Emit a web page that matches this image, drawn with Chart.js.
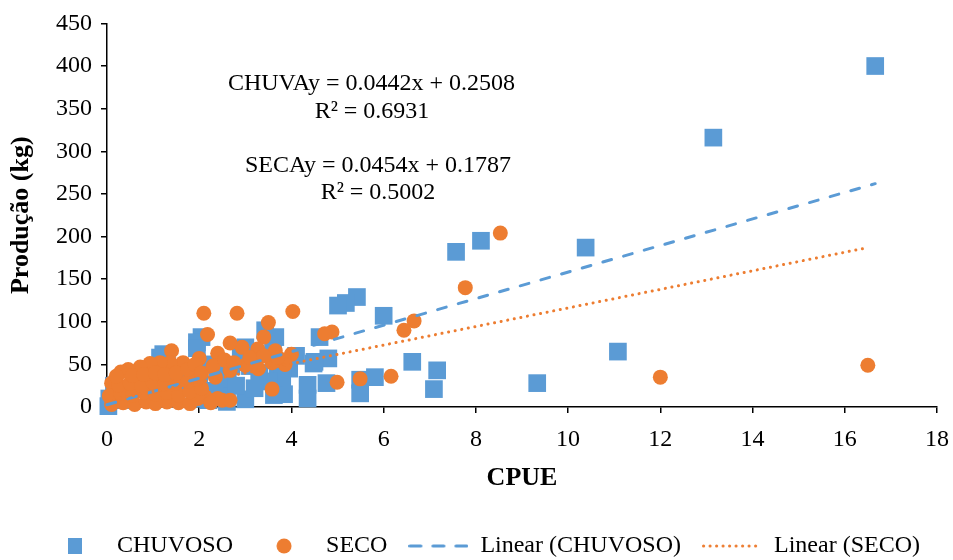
<!DOCTYPE html>
<html>
<head>
<meta charset="utf-8">
<script src="https://cdn.jsdelivr.net/npm/chart.js@4.4.0/dist/chart.umd.min.js"></script>
<style>
html,body{margin:0;padding:0;background:#fff;}
#c{display:block;}
</style>
</head>
<body>
<canvas id="c" width="953" height="560"></canvas>
<script>
// ---- data ----
const chuvosoX = [16.66,13.15,10.38,8.11,7.57,11.08,9.33,7.16,7.09,6.62,6.0,5.42,5.18,5.01,5.81,5.49,5.49,4.8,4.5,4.61,4.76,4.35,4.35,3.84,3.62,3.0,3.0,3.43,3.65,2.05,1.95,1.95,1.22,1.3,2.95,4.48,2.62,3.07,3.7,3.95,3.8,2.3,2.5,3.1,3.3,2.9,2.0,2.0,2.0,2.2,2.5,2.34,0.03,0.05,2.6,1.0,1.1,1.15,0.3,0.5,0.8,1.2,1.5,1.7,0.4,0.9,1.3,1.6,1.9,0.15,3.5,3.2,2.8,2.7,4.1,3.6];
const chuvosoY = [400,316,187,195,182,65,28,43,21,53,107,129,122,119,35,32,16,57,53,82,28,26,10,15,14,9,70,90,82,82,76,69,62,58,62,51,31,56,50,45,35,50,40,48,40,58,45,30,15,8,12,19,1,10,6,45,40,58,15,20,25,30,35,40,8,12,18,22,10,25,30,22,25,48,60,65];

const secoX = [16.5,12.0,8.53,7.77,6.66,6.44,6.16,5.49,4.99,4.88,4.72,4.03,3.5,2.82,2.1,2.18,3.58,4.0,3.84,3.86,3.65,3.4,3.27,3.58,3.28,3.0,2.93,2.67,2.67,2.4,2.35,2.0,1.65,1.4,1.37,1.15,0.93,0.72,0.46,0.3,0.1,2.5,2.67,2.4,2.13,1.97,1.3,
  0.1,0.35,0.6,0.85,1.05,1.55,1.8,2.25,
  0.05,0.3,0.55,0.8,1.05,1.3,1.55,1.8,2.05,
  0.25,0.5,0.75,1.0,1.25,1.5,1.75,1.95,
  0.2,0.55,0.8,1.05,1.25,1.5,1.75,1.91,2.05,2.3,2.55,2.75,3.1,3.4,3.7];
const secoY = [49,35,204,140,101,90,36,33,29,88,86,112,99,110,110,85,21,62,55,50,66,82,68,52,45,49,70,75,43,63,35,57,52,66,52,52,51,47,44,41,28,8,8,10,12,10,6,
  3,5,3,6,4,5,4,5,
  13,16,14,17,15,17,14,18,22,
  26,28,25,29,27,28,30,33,
  36,37,38,40,38,40,44,50,40,48,55,52,58,60,58];

// trend-line end points as drawn in the picture
const trendChuvosoX = [0, 16.66];
const trendChuvosoY = [2.6, 262];
const trendSecoX = [0, 16.5];
const trendSecoY = [7.3, 187];

// equation labels
const equationTexts = ['CHUVAy = 0.0442x + 0.2508', 'R\u00B2 = 0.6931', 'SECAy = 0.0454x + 0.1787', 'R\u00B2 = 0.5002'];

const seriesNames = ['CHUVOSO', 'SECO', 'Linear (CHUVOSO)', 'Linear (SECO)'];
const xAxisTitle = 'CPUE';
const yAxisTitle = 'Produção (kg)';

// ---- styling ----
const FONT = "'Liberation Serif', 'Times New Roman', serif";
const BLUE = '#5B9BD5';
const ORANGE = '#ED7D31';

const toPts = (xs, ys) => xs.map((x, i) => ({x: x, y: ys[i]}));

function mk(w, h, draw) {
  const c = document.createElement('canvas');
  c.width = w; c.height = h;
  draw(c.getContext('2d'));
  return c;
}
const legSquare = mk(14, 16, g => { g.fillStyle = BLUE; g.fillRect(0, 0, 14, 16); });
const legCircle = mk(16, 16, g => { g.fillStyle = ORANGE; g.beginPath(); g.arc(8, 8, 7.5, 0, Math.PI * 2); g.fill(); });
const legDash = mk(60, 6, g => {
  g.strokeStyle = BLUE; g.lineWidth = 3; g.lineCap = 'round'; g.setLineDash([11, 12]);
  g.beginPath(); g.moveTo(1.5, 3); g.lineTo(60, 3); g.stroke();
});
const legDot = mk(60, 6, g => {
  g.strokeStyle = ORANGE; g.lineWidth = 3; g.lineCap = 'round'; g.setLineDash([0.1, 6.4]);
  g.beginPath(); g.moveTo(1.5, 3); g.lineTo(60, 3); g.stroke();
});
const legendMarks = [legSquare, legCircle, legDash, legDot];

const eqPlugin = {
  id: 'equations',
  afterDraw(chart) {
    const ctx = chart.ctx;
    const pos = [[371.5, 84], [372, 112], [378, 166], [378, 193]];
    ctx.save();
    ctx.font = '24px ' + FONT;
    ctx.fillStyle = '#000';
    ctx.textAlign = 'center';
    ctx.textBaseline = 'middle';
    equationTexts.forEach((t, i) => ctx.fillText(t, pos[i][0], pos[i][1]));
    ctx.restore();
  }
};

const legendShift = {
  id: 'legendShift',
  afterLayout(chart) {
    const lg = chart.legend;
    if (lg) { lg.top += 8; lg.bottom += 8; lg.left += 14; lg.right += 14; }
  }
};

new Chart(document.getElementById('c'), {
  type: 'scatter',
  data: {
    datasets: [
      {label: seriesNames[0], data: toPts(chuvosoX, chuvosoY), pointStyle: 'rect', pointRadius: 12.5,
       backgroundColor: BLUE, borderColor: BLUE, pointBorderWidth: 0, order: 3, clip: false},
      {label: seriesNames[1], data: toPts(secoX, secoY), pointStyle: 'circle', pointRadius: 7.5,
       backgroundColor: ORANGE, borderColor: ORANGE, pointBorderWidth: 0, order: 2, clip: false},
      {label: seriesNames[2], data: toPts(trendChuvosoX, trendChuvosoY), showLine: true, pointRadius: 0,
       borderColor: BLUE, backgroundColor: BLUE, borderWidth: 3, borderDash: [9, 12.5], borderCapStyle: 'round', fill: false, order: 1, clip: false},
      {label: seriesNames[3], data: toPts(trendSecoX, trendSecoY), showLine: true, pointRadius: 0,
       borderColor: ORANGE, backgroundColor: ORANGE, borderWidth: 3, borderDash: [0.1, 6.6], borderCapStyle: 'round', fill: false, order: 0, clip: false}
    ]
  },
  options: {
    responsive: false,
    animation: false,
    devicePixelRatio: 1,
    layout: {padding: {top: 21, right: 16, left: 0, bottom: 0}},
    scales: {
      x: {
        type: 'linear', min: 0, max: 18,
        ticks: {stepSize: 2, font: {family: FONT, size: 24}, color: '#000', padding: 12},
        grid: {drawOnChartArea: false, color: '#000', tickLength: 6, lineWidth: 1.5},
        border: {color: '#000', width: 1.5},
        title: {display: true, text: xAxisTitle, color: '#000', font: {family: FONT, size: 26, weight: 'bold'}, padding: {top: 0, bottom: 11}},
        afterFit(s) { s.height = 98; s.paddingRight = 14; s.paddingLeft = 0; }
      },
      y: {
        type: 'linear', min: 0, max: 450,
        ticks: {stepSize: 50, font: {family: FONT, size: 24}, color: '#000', padding: 9},
        grid: {drawOnChartArea: false, color: '#000', tickLength: 6, lineWidth: 1.5},
        border: {color: '#000', width: 1.5},
        title: {display: true, text: yAxisTitle, color: '#000', font: {family: FONT, size: 26, weight: 'bold'}, padding: {top: 6, bottom: 0}},
        afterFit(s) { s.width = 107; }
      }
    },
    plugins: {
      tooltip: {enabled: false},
      legend: {
        position: 'bottom',
        labels: {
          usePointStyle: true,
          pointStyleWidth: 60,
          boxHeight: 16,
          padding: 21,
          color: '#000',
          font: {family: FONT, size: 24},
          generateLabels(chart) {
            return chart.data.datasets.map((ds, i) => ({
              text: ds.label, datasetIndex: i, pointStyle: legendMarks[i],
              fillStyle: 'rgba(0,0,0,0)', strokeStyle: 'rgba(0,0,0,0)', lineWidth: 0, hidden: false, fontColor: '#000'
            }));
          },
          sort: (a, b) => a.datasetIndex - b.datasetIndex
        }
      }
    }
  },
  plugins: [eqPlugin, legendShift]
});
</script>
</body>
</html>
